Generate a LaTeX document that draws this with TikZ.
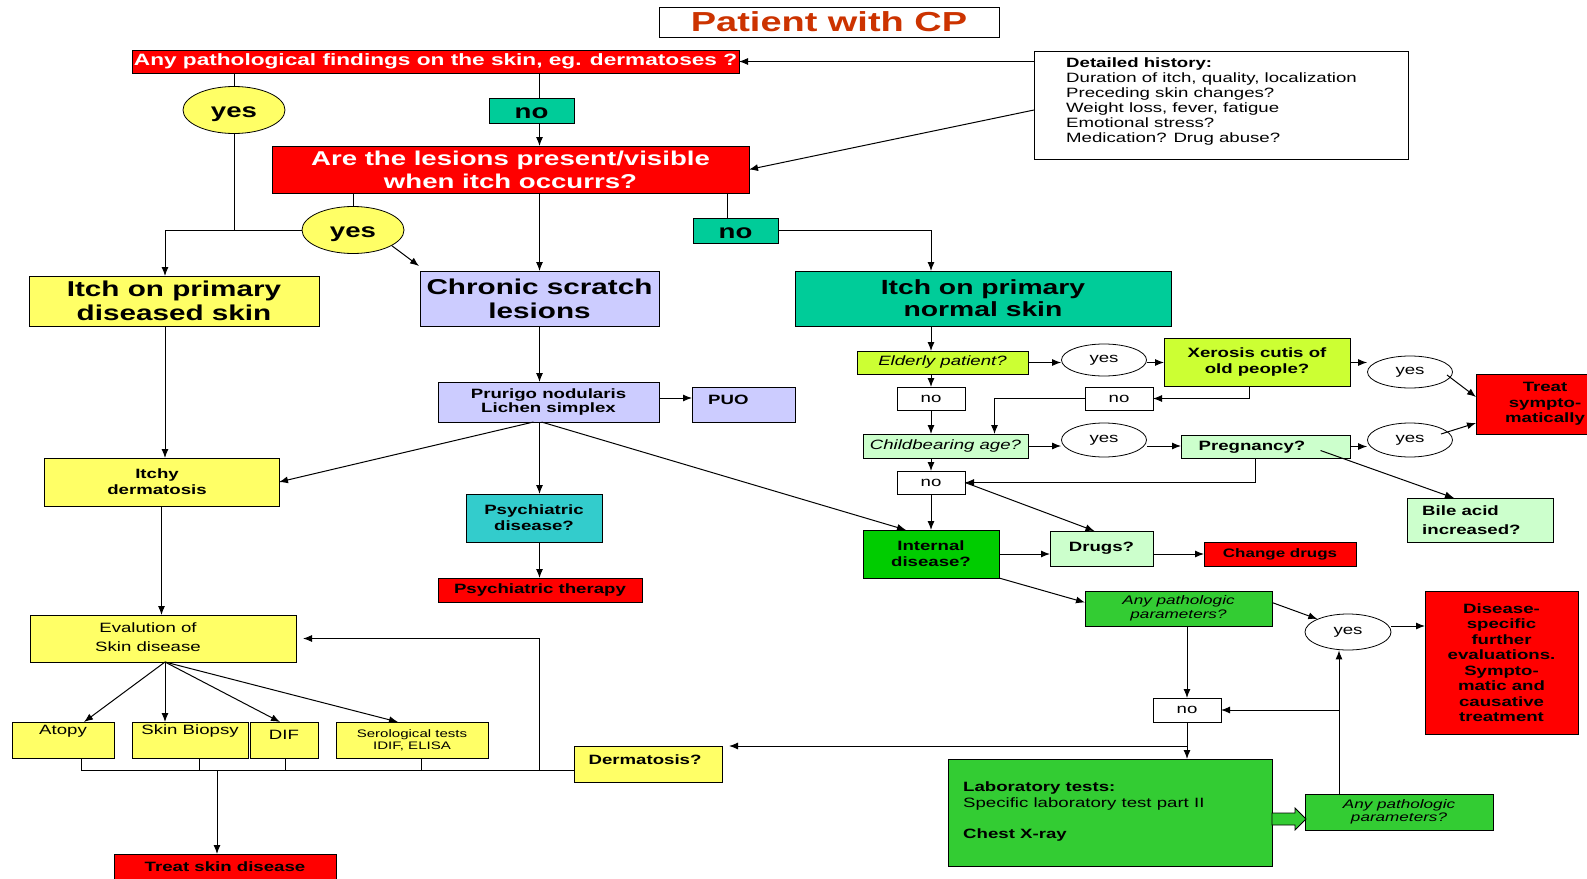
\documentclass[tikz,border=0pt]{standalone}
\usepackage{fontspec}
\setmainfont{Liberation Sans}[FakeStretch=1.38]
\usetikzlibrary{arrows.meta,shapes.geometric,calc}
\definecolor{cred}{HTML}{FF0000}
\definecolor{cteal}{HTML}{00CC99}
\definecolor{cyel}{HTML}{FFFF66}
\definecolor{clav}{HTML}{CCCCFF}
\definecolor{clime}{HTML}{CCFF33}
\definecolor{cpale}{HTML}{CCFFCC}
\definecolor{cgreen}{HTML}{00CC00}
\definecolor{cmid}{HTML}{33CC33}
\definecolor{cpsy}{HTML}{33CCCC}
\definecolor{ctitle}{HTML}{CC3300}
\newcommand\fsz[2]{\fontsize{#1pt}{#2pt}\selectfont}
\newcommand\mybox[7]{%
 \pgfmathsetmacro\mybw{#4-#2}%
 \pgfmathsetmacro\mybh{#5-#3}%
 \node[box,#6,minimum width=\mybw pt,minimum height=\mybh pt,anchor=north west] (#1) at (#2,#3) {#7};}
\tikzset{
 box/.style={draw=black,line width=0.8pt,inner sep=0pt,outer sep=0pt,align=center,font=\bfseries\fsz{13.5}{15.5}},
 txt/.style={inner sep=0pt,align=center,font=\bfseries\fsz{13.5}{15.5}},
 conn/.style={line width=1pt},
 arr/.style={conn,-{Latex[length=9pt,width=7pt]}},
 yesB/.style={ellipse,draw=black,line width=0.8pt,fill=cyel,inner sep=0pt,font=\bfseries\fsz{20}{22},minimum width=102pt,minimum height=47pt,text height=15pt,text depth=0pt},
 yesS/.style={ellipse,draw=black,line width=0.8pt,fill=white,inner sep=0pt,font=\fsz{13.5}{15},minimum width=85pt,minimum height=32pt},
 noB/.style={fill=cteal,font=\bfseries\fsz{20}{22},text height=16pt,text depth=0pt},
}
\begin{document}
\begin{tikzpicture}[x=1pt,y=-1pt]
\fill[white] (0,0) rectangle (1587,878);
\useasboundingbox (0,0) rectangle (1587,878);
% top part
\mybox{title}{659}{7}{999}{37}{fill=white,text=ctitle,font=\bfseries\fsz{27.5}{30}}{Patient with CP}
\mybox{q1}{132}{50}{739}{73}{fill=cred,text=white,font=\bfseries\fsz{16.4}{19}}{Any pathological findings on the skin, eg. dermatoses ?}
\mybox{q2}{272}{146}{749}{193}{fill=cred,text=white,font=\bfseries\fsz{20}{23}}{Are the lesions present/visible\\when itch occurrs?}
\mybox{no1}{489}{98}{574}{123}{noB}{no}
\mybox{no2}{693}{218}{778}{243}{noB}{no}
\node[yesB] (yes1) at (234,110) {yes};
\node[yesB] (yes2) at (353,230) {yes};
\mybox{hist}{1034}{51}{1408}{159}{fill=white}{}
\node[anchor=north west,inner sep=0pt,align=left,font=\fsz{13.5}{15}] (histT) at (1066,58) {\textbf{Detailed history:}\\Duration of itch, quality, localization\\Preceding skin changes?\\Weight loss, fever, fatigue\\Emotional stress?\\Medication? Drug abuse?};
\mybox{itchD}{29}{276}{319}{326}{fill=cyel,font=\bfseries\fsz{21.5}{24}}{Itch on primary\\diseased skin}
\mybox{chronic}{420}{271}{659}{326}{fill=clav,font=\bfseries\fsz{21.5}{24}}{Chronic scratch\\lesions}
\mybox{itchN}{795}{271}{1171}{326}{fill=cteal,font=\bfseries\fsz{20.5}{22}}{Itch on primary\\normal skin}
% right part
\mybox{elderly}{857}{351}{1028}{374}{fill=clime,font=\itshape\fsz{13.5}{15}}{Elderly patient?}
\node[yesS] (yes3) at (1104,360) {yes};
\mybox{xerosis}{1164}{338}{1350}{386}{fill=clime}{Xerosis cutis of\\old people?}
\node[yesS] (yes4) at (1410,372) {yes};
\mybox{treat}{1476}{374}{1592}{434}{fill=cred}{}
\node[txt] (treatT) at (1545,404) {Treat\\sympto-\\matically};
\mybox{nomid}{897}{387}{965}{410}{fill=white,font=\fsz{13.5}{15}}{no}
\mybox{noright}{1085}{387}{1153}{410}{fill=white,font=\fsz{13.5}{15}}{no}
\mybox{child}{863}{434}{1028}{458}{fill=cpale,font=\itshape\fsz{13.5}{15}}{Childbearing age?}
\node[yesS,minimum height=34pt] (yes5) at (1104,440) {yes};
\mybox{preg}{1181}{435}{1350}{458}{fill=cpale}{}
\node[txt] (pregT) at (1252,447) {Pregnancy?};
\node[yesS,minimum height=34pt] (yes6) at (1410,440) {yes};
\mybox{nolow}{897}{471}{965}{494}{fill=white,font=\fsz{13.5}{15}}{no}
\mybox{bile}{1407}{498}{1553}{542}{fill=cpale}{}
\node[txt,anchor=west,align=left,font=\bfseries\fsz{13.5}{19}] (bileT) at (1422,520) {Bile acid\\increased?};
\mybox{internal}{863}{530}{999}{578}{fill=cgreen,font=\bfseries\fsz{13.5}{16}}{Internal\\disease?}
\mybox{drugs}{1050}{531}{1153}{566}{fill=cpale}{Drugs?}
\mybox{change}{1204}{542}{1356}{566}{fill=cred,font=\bfseries\fsz{12.3}{14}}{Change drugs}
\mybox{anyU}{1085}{591}{1272}{626}{fill=cmid,font=\itshape\fsz{12.4}{13.5}}{Any pathologic\\parameters?}
\node[yesS,minimum width=86pt,minimum height=36pt] (yes7) at (1348,632) {yes};
\mybox{disease}{1425}{591}{1578}{734}{fill=cred}{Disease-\\specific\\further\\evaluations.\\Sympto-\\matic and\\causative\\treatment}
\mybox{nobot}{1153}{698}{1221}{722}{fill=white,font=\fsz{13.5}{15}}{no}
\mybox{lab}{948}{759}{1272}{866}{fill=cmid}{}
\node[anchor=north west,inner sep=0pt,align=left,font=\fsz{13.5}{15.5}] (labT) at (963,782) {\textbf{Laboratory tests:}\\Specific laboratory test part II\\[15.5pt]\textbf{Chest X-ray}};
\mybox{anyL}{1305}{794}{1493}{830}{fill=cmid,font=\itshape\fsz{12.4}{13.5}}{Any pathologic\\parameters?}
% middle / left part
\mybox{prurigo}{438}{382}{659}{422}{fill=clav,font=\bfseries\fsz{13.5}{14.7}}{Prurigo nodularis\\Lichen simplex}
\mybox{puo}{692}{387}{795}{422}{fill=clav}{}
\node[txt,anchor=west] (puoT) at (708,400) {PUO};
\mybox{itchy}{44}{458}{279}{506}{fill=cyel,font=\bfseries\fsz{13.5}{15.7}}{}
\node[txt,font=\bfseries\fsz{13.5}{15.7}] (itchyT) at (157,482) {Itchy\\dermatosis};
\mybox{psyD}{466}{494}{602}{542}{fill=cpsy,font=\bfseries\fsz{13.5}{15.7}}{Psychiatric\\disease?}
\mybox{psyT}{438}{578}{642}{602}{fill=cred}{Psychiatric therapy}
\mybox{eval}{30}{615}{296}{662}{fill=cyel}{}
\node[txt,font=\fsz{13.5}{18.7}] (evalT) at (148,637) {Evalution of\\Skin disease};
\mybox{atopy}{12}{722}{114}{758}{fill=cyel}{}
\node[txt,font=\fsz{13.5}{15}] (atopyT) at (63,731) {Atopy};
\mybox{biopsy}{132}{722}{248}{758}{fill=cyel}{}
\node[txt,font=\fsz{13.5}{15}] (biopsyT) at (190,731) {Skin Biopsy};
\mybox{dif}{250}{722}{318}{758}{fill=cyel}{}
\node[txt,font=\fsz{13.5}{15}] (difT) at (284,735) {DIF};
\mybox{sero}{336}{722}{488}{758}{fill=cyel}{}
\node[txt,font=\fsz{10.9}{11.7}] (seroT) at (412,740) {Serological tests\\IDIF, ELISA};
\mybox{derm}{574}{746}{722}{782}{fill=cyel}{}
\node[txt] (dermT) at (645,760) {Dermatosis?};
\mybox{treatS}{114}{854}{336}{892}{fill=cred}{}
\node[txt] (treatST) at (225,867) {Treat skin disease};
\coordinate (bus) at (0,770);
% connectors top
\draw[arr] (hist.west |- q1.east) -- (q1.east);
\draw[arr] ([yshift=-5pt]hist.west) -- (q2.east);
\draw[conn] (q1.south -| yes1.north) -- (yes1.north);
\draw[conn] (yes1.south) -- (yes1 |- yes2);
\draw[arr] (yes2.west) -| ([xshift=-9pt]itchD.north);
\draw[conn] (q2.south -| yes2.north) -- (yes2.north);
\draw[arr] (yes2.-22) -- ([xshift=-1pt,yshift=5pt]chronic.north west);
\draw[conn] (q1.south -| chronic.north) -- (no1.north -| chronic.north);
\draw[arr] (no1.south -| chronic.north) -- (q2.north -| chronic.north);
\draw[arr] (q2.south -| chronic.north) -- (chronic.north);
\coordinate (no2x) at ([xshift=-8pt]no2.north);
\draw[conn] (q2.south -| no2x) -- (no2x);
\draw[arr] (no2.east) -| (itchN.north -| nomid.north);
% right column
\draw[arr] (itchN.south -| nomid.north) -- (elderly.north -| nomid.north);
\draw[arr] (elderly.south -| nomid.north) -- (nomid.north);
\draw[arr] (nomid.south) -- (child.north -| nomid.south);
\draw[arr] (child.south -| nolow.north) -- (nolow.north);
\draw[arr] (nolow.south) -- (internal.north -| nolow.south);
\draw[arr] (elderly.east) -- (elderly.east -| yes3.west);
\draw[arr] (yes3.east |- elderly.east) -- (elderly.east -| xerosis.west);
\draw[arr] (xerosis.east |- elderly.east) -- (elderly.east -| yes4.west);
\draw[arr] ([xshift=37pt,yshift=-3pt]yes4.center) -- ([yshift=7pt]treat.west);
\draw[arr] ([xshift=-8pt]xerosis.south) |- (noright.east);
\draw[arr] (noright.west) -| ([xshift=49pt]child.north);
\draw[arr] (child.east) -- (child.east -| yes5.west);
\draw[arr] (yes5.east |- child.east) -- (child.east -| preg.west);
\draw[arr] (preg.east) -- (preg.east -| yes6.west);
\draw[arr] ([xshift=31pt,yshift=6pt]yes6.center) -- ([yshift=11pt]treat.south west);
\draw[arr] ([xshift=55pt,yshift=-4pt]preg.center) -- ([xshift=-26pt]bile.north);
\draw[arr] ([xshift=-10pt]preg.south) |- (nolow.east);
\draw[arr] (nolow.east) -- ([xshift=-7pt]drugs.north);
\draw[arr] (internal.east) -- (internal.east -| drugs.west);
\draw[arr] (drugs.east |- internal.east) -- (internal.east -| change.west);
% middle
\draw[arr] (chronic.south) -- (prurigo.north -| chronic.south);
\draw[arr] ([yshift=4pt]prurigo.east) -- ([yshift=4pt]prurigo.east -| puo.west);
\draw[arr] ([xshift=-15pt]prurigo.south) -- (itchy.east);
\draw[arr] (prurigo.south -| chronic.south) -- (psyD.north -| chronic.south);
\draw[arr] ([xshift=-7pt]prurigo.south) -- ([xshift=-25pt]internal.north);
\draw[arr] (psyD.south -| chronic.south) -- (psyT.north -| chronic.south);
% left
\draw[arr] ([xshift=-9pt]itchD.south) -- ([xshift=-9pt]itchD.south |- itchy.north);
\draw[arr] (itchy.south) -- (itchy.south |- eval.north);
\coordinate (evs) at ([xshift=2pt]eval.south);
\draw[arr] (evs) -- ([xshift=21pt]atopy.north);
\draw[arr] (evs) -- (evs |- biopsy.north);
\draw[arr] (evs) -- ([xshift=-4pt]dif.north);
\draw[arr] (evs) -- ([xshift=-14pt]sero.north);
\draw[conn] ([xshift=18pt]atopy.south) |- (bus -| derm.west);
\draw[conn] ([xshift=9pt]biopsy.south) -- ([xshift=9pt]biopsy.south |- bus);
\draw[conn] ([xshift=1pt]dif.south) -- ([xshift=1pt]dif.south |- bus);
\draw[conn] ([xshift=9pt]sero.south) -- ([xshift=9pt]sero.south |- bus);
\draw[arr] ([xshift=-8pt]treatS.north |- bus) -- ([xshift=-8pt]treatS.north);
\draw[arr] (bus -| chronic.south) |- ([xshift=7pt]eval.east);
% lower right
\draw[arr] (internal.south east) -- ([yshift=6pt]anyU.west);
\draw[arr] ([yshift=6pt]anyU.east) -- (yes7.north west);
\draw[arr] ([yshift=6pt]yes7.east) -- ([yshift=6pt]yes7.east -| disease.west);
\draw[arr] (anyU.south -| nobot.north) -- (nobot.north);
\coordinate (yx) at ([xshift=-9pt]yes7.south);
\draw[arr] (anyL.north -| yx) -- (yx);
\draw[arr] (nobot.east -| yx) -- (nobot.east);
\draw[arr] (nobot.south) -- (nobot.south |- lab.north);
\draw[arr] (nobot.south |- derm.north) -- ([xshift=7pt]derm.north east);
\draw[line width=0.8pt,fill=cmid] ([yshift=-0.5pt]lab.east) -- ++(23,0) -- ++(0,-5) -- ++(11,11) -- ++(-11,11) -- ++(0,-5) -- ++(-23,0) -- cycle;
\end{tikzpicture}
\end{document}
